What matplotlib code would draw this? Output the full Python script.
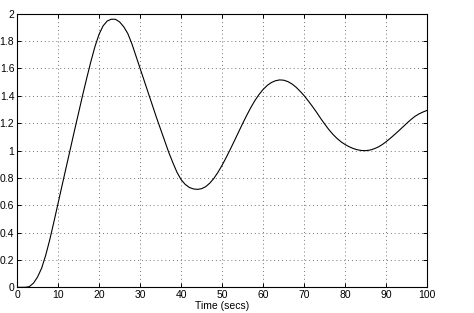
import matplotlib
matplotlib.use("Agg")
import matplotlib.pyplot as plt
from matplotlib.ticker import FuncFormatter

# Time samples (secs) and step response values
time_s = list(range(0, 101))
response = [
    0.0, 0.0, 0.0, 0.005, 0.03, 0.075, 0.14, 0.235, 0.35, 0.48,
    0.613, 0.747, 0.88, 1.012, 1.145, 1.275, 1.405, 1.53, 1.65, 1.76,
    1.85, 1.912, 1.947, 1.96, 1.959, 1.94, 1.905, 1.855, 1.78, 1.69,
    1.6, 1.51, 1.42, 1.33, 1.24, 1.155, 1.07, 0.985, 0.91, 0.84,
    0.787, 0.752, 0.73, 0.719, 0.716, 0.721, 0.736, 0.762, 0.797, 0.842,
    0.893, 0.95, 1.01, 1.072, 1.135, 1.198, 1.258, 1.315, 1.366, 1.41,
    1.447, 1.476, 1.497, 1.51, 1.516, 1.514, 1.504, 1.487, 1.463, 1.433,
    1.4, 1.362, 1.322, 1.28, 1.235, 1.193, 1.153, 1.118, 1.088, 1.063,
    1.043, 1.027, 1.014, 1.005, 1.0, 0.999, 1.003, 1.012, 1.025, 1.043,
    1.065, 1.09, 1.116, 1.143, 1.171, 1.199, 1.226, 1.25, 1.268, 1.282,
    1.294,
]
x_ticks = list(range(0, 101, 10))
y_ticks = [0, 0.2, 0.4, 0.6, 0.8, 1.0, 1.2, 1.4, 1.6, 1.8, 2.0]
x_label = "Time (secs)"

plt.rcParams['font.family'] = ['Liberation Sans', 'DejaVu Sans']

fig = plt.figure(figsize=(4.74, 3.13), dpi=100)
ax = fig.add_axes([0.0359, 0.0821, 0.9015 - 0.0359, 0.9562 - 0.0821])

ax.plot(time_s, response, color='black', linewidth=0.8)

ax.set_xlim(0, 100)
ax.set_ylim(0, 2)
ax.set_xticks(x_ticks)
ax.set_yticks(y_ticks)
ax.yaxis.set_major_formatter(FuncFormatter(lambda v, p: f"{v:g}"))

ax.grid(True, color='0.45', linestyle=(0, (1, 3)), linewidth=0.7)
ax.tick_params(direction='in', length=3, width=0.7, labelsize=7.5,
               top=True, right=True, pad=2, colors='black')
for s in ax.spines.values():
    s.set_linewidth(0.8)
    s.set_color('black')

ax.set_xlabel(x_label, fontsize=7.5, labelpad=1)

fig.savefig("out.png", dpi=100, facecolor='white')
